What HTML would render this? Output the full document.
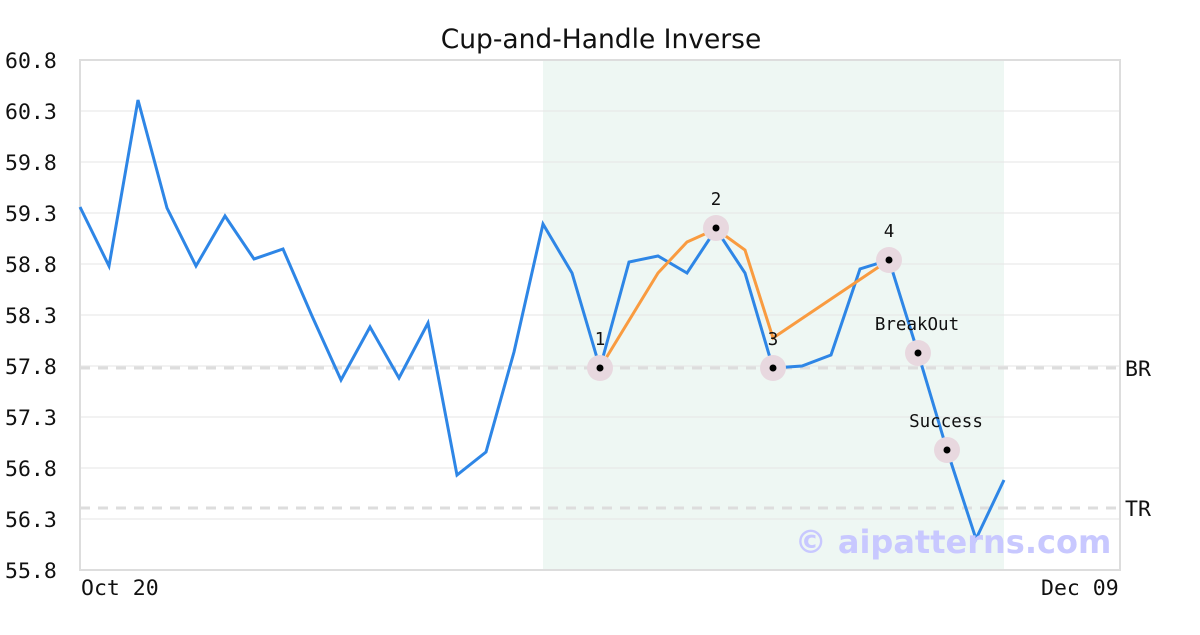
<!DOCTYPE html>
<html><head><style>body{margin:0;background:#fff}</style></head><body>
<svg width="1200" height="630" xmlns="http://www.w3.org/2000/svg">
<rect x="543" y="60" width="461" height="510" fill="#eef7f3"/>
<g stroke="#e6e6e6" stroke-width="1">
<line x1="80" x2="1120" y1="111" y2="111"/><line x1="80" x2="1120" y1="162" y2="162"/><line x1="80" x2="1120" y1="213" y2="213"/><line x1="80" x2="1120" y1="264" y2="264"/><line x1="80" x2="1120" y1="315" y2="315"/><line x1="80" x2="1120" y1="366" y2="366"/><line x1="80" x2="1120" y1="417" y2="417"/><line x1="80" x2="1120" y1="468" y2="468"/><line x1="80" x2="1120" y1="519" y2="519"/>
</g>
<g stroke="#dddddd" stroke-width="3" stroke-dasharray="10,8">
<line x1="80" x2="1120" y1="368" y2="368"/><line x1="80" x2="1120" y1="508" y2="508"/>
</g>
<rect x="80" y="60" width="1040" height="510" fill="none" stroke="#dddddd" stroke-width="2"/>
<polyline fill="none" stroke="#2e86e6" stroke-width="3" points="80,207 109,266 138,100 167,208 196,266 225,216 254,259 283,249 312,316 341,380 370,327 399,378 428,323 457,475 486,452 514,352 543,224 572,273 600,368 629,262 658,256 687,273 716,229 745,273 773,368 802,366 831,355 860,269 889,260 918,353 947,450 976,539 1004,480"/>
<polyline fill="none" stroke="#f99b40" stroke-width="3" points="600,368 658,273 687,242 716,229 745,250 773,338 889,260"/>
<g fill="#e8d8df"><circle cx="600" cy="368" r="13"/><circle cx="716" cy="228" r="13"/><circle cx="773" cy="368" r="13"/><circle cx="889" cy="260" r="13"/><circle cx="918" cy="353" r="13"/><circle cx="947" cy="450" r="13"/></g>
<g fill="#000"><circle cx="600" cy="368" r="3.5"/><circle cx="716" cy="228" r="3.5"/><circle cx="773" cy="368" r="3.5"/><circle cx="889" cy="260" r="3.5"/><circle cx="918" cy="353" r="3.5"/><circle cx="947" cy="450" r="3.5"/></g>
<g font-family="DejaVu Sans Mono, monospace" font-size="17.5" fill="#111" text-anchor="middle">
<text x="600" y="345">1</text><text x="716" y="205">2</text><text x="773" y="345">3</text><text x="889" y="237">4</text><text x="917" y="330">BreakOut</text><text x="946" y="427">Success</text>
</g>
<g font-family="DejaVu Sans Mono, monospace" font-size="21.5" fill="#111">
<text x="5" y="68">60.8</text><text x="5" y="119">60.3</text><text x="5" y="170">59.8</text><text x="5" y="221">59.3</text><text x="5" y="272">58.8</text><text x="5" y="323">58.3</text><text x="5" y="374">57.8</text><text x="5" y="425">57.3</text><text x="5" y="476">56.8</text><text x="5" y="527">56.3</text><text x="5" y="578">55.8</text>
<text x="81" y="595">Oct 20</text><text x="1041" y="595">Dec 09</text>
<text x="1125" y="376">BR</text><text x="1125" y="516">TR</text>
</g>
<text x="953" y="553" text-anchor="middle" font-family="DejaVu Sans, sans-serif" font-weight="bold" font-size="32" fill="#c8c8ff">© aipatterns.com</text>
<text x="601" y="48" text-anchor="middle" font-family="DejaVu Sans, sans-serif" font-size="26.5" fill="#111">Cup-and-Handle Inverse</text>
</svg>
</body></html>
